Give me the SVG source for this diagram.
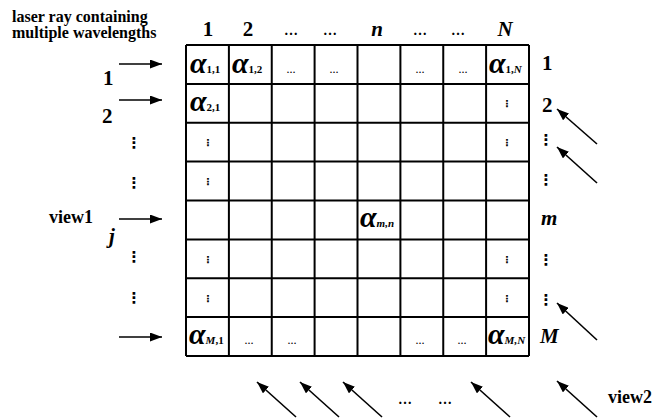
<svg xmlns="http://www.w3.org/2000/svg" width="656" height="419" viewBox="0 0 656 419">
  <defs>
    <marker id="head" markerUnits="userSpaceOnUse" markerWidth="13" markerHeight="9" refX="12" refY="4.5" orient="auto">
      <path d="M0,0 L12,4.5 L0,9 z" fill="#000"/>
    </marker>
    <style>
      text { font-family: 'Liberation Serif', 'DejaVu Serif', serif; font-weight: bold; fill: #000; }
      .lbl { font-size: 16px; }
      .num { font-size: 21px; }
      .it { font-style: italic; }
      .al { font-size: 30px; font-style: italic; }
      .sub { font-size: 11px; font-style: normal; }
      .subi { font-size: 11px; font-style: italic; }
      text.dots { font-family: 'DejaVu Sans', sans-serif; text-anchor: middle; }
      .vd { font-size: 15px; }
      .vds { font-size: 10px; }
      .hd { font-size: 14px; text-anchor: middle; }
      .cd { font-size: 9px; text-anchor: middle; }
      .grid line { stroke: #000; stroke-width: 2; }
      .ray { stroke: #000; stroke-width: 1.6; fill: none; marker-end: url(#head); }
    </style>
  </defs>
  <rect width="656" height="419" fill="#fff"/>

  <!-- title of the incoming ray -->
  <g id="title">
    <text class="lbl" x="12" y="22">laser ray containing</text>
    <text class="lbl" x="12" y="38">multiple wavelengths</text>
  </g>

  <!-- column indices -->
  <g id="col-labels">
    <text class="num" x="208" y="36" text-anchor="middle">1</text>
    <text class="num" x="248" y="36" text-anchor="middle">2</text>
    <text class="hd" x="291" y="35">…</text>
    <text class="hd" x="330" y="35">…</text>
    <text class="num it" x="377" y="36" text-anchor="middle">n</text>
    <text class="hd" x="420" y="35">…</text>
    <text class="hd" x="458" y="35">…</text>
    <text class="num it" x="505" y="36" text-anchor="middle">N</text>
  </g>

  <!-- the M x N grid -->
  <g id="grid" class="grid">
    <line x1="186" y1="45" x2="529" y2="45"/>
    <line x1="186" y1="83.9" x2="529" y2="83.9"/>
    <line x1="186" y1="122.75" x2="529" y2="122.75"/>
    <line x1="186" y1="161.6" x2="529" y2="161.6"/>
    <line x1="186" y1="200.5" x2="529" y2="200.5"/>
    <line x1="186" y1="239.4" x2="529" y2="239.4"/>
    <line x1="186" y1="278.25" x2="529" y2="278.25"/>
    <line x1="186" y1="317.1" x2="529" y2="317.1"/>
    <line x1="186" y1="356" x2="529" y2="356"/>
    <line x1="186" y1="45" x2="186" y2="356"/>
    <line x1="228.9" y1="45" x2="228.9" y2="356"/>
    <line x1="271.75" y1="45" x2="271.75" y2="356"/>
    <line x1="314.6" y1="45" x2="314.6" y2="356"/>
    <line x1="357.5" y1="45" x2="357.5" y2="356"/>
    <line x1="400.4" y1="45" x2="400.4" y2="356"/>
    <line x1="443.25" y1="45" x2="443.25" y2="356"/>
    <line x1="486.1" y1="45" x2="486.1" y2="356"/>
    <line x1="529" y1="45" x2="529" y2="356"/>
  </g>

  <!-- cell contents -->
  <g id="cells">
    <text class="al" x="190" y="73">α<tspan class="sub">1,1</tspan></text>
    <text class="al" x="232" y="73">α<tspan class="sub">1,2</tspan></text>
    <text class="cd" x="291" y="73">…</text>
    <text class="cd" x="334" y="73">…</text>
    <text class="cd" x="420" y="73">…</text>
    <text class="cd" x="463" y="73">…</text>
    <text class="al" x="489" y="73">α<tspan class="sub">1,</tspan><tspan class="subi">N</tspan></text>

    <text class="al" x="190" y="111">α<tspan class="sub">2,1</tspan></text>
    <text class="dots vds" x="507" y="107">⋮</text>

    <text class="dots vds" x="208" y="146">⋮</text>
    <text class="dots vds" x="507" y="146">⋮</text>

    <text class="dots vds" x="208" y="185">⋮</text>

    <text class="al" x="360" y="227">α<tspan class="subi">m,n</tspan></text>

    <text class="dots vds" x="208" y="263">⋮</text>
    <text class="dots vds" x="507" y="263">⋮</text>

    <text class="dots vds" x="208" y="302">⋮</text>
    <text class="dots vds" x="507" y="302">⋮</text>

    <text class="al" x="189" y="344">α<tspan class="subi">M</tspan><tspan class="sub">,1</tspan></text>
    <text class="cd" x="249" y="344">…</text>
    <text class="cd" x="292" y="344">…</text>
    <text class="cd" x="420" y="344">…</text>
    <text class="cd" x="462" y="344">…</text>
    <text class="al" x="488" y="344">α<tspan class="subi">M,N</tspan></text>
  </g>

  <!-- row indices on the right -->
  <g id="row-labels-right">
    <text class="num" x="542" y="70">1</text>
    <text class="num" x="542" y="112">2</text>
    <text class="dots vd" x="546" y="145">⋮</text>
    <text class="dots vd" x="546" y="185">⋮</text>
    <text class="num it" x="541" y="225">m</text>
    <text class="dots vd" x="546" y="265">⋮</text>
    <text class="dots vd" x="546" y="305">⋮</text>
    <text class="num it" x="540" y="343">M</text>
  </g>

  <!-- ray indices on the left -->
  <g id="row-labels-left">
    <text class="num" x="103" y="85">1</text>
    <text class="num" x="102" y="123">2</text>
    <text class="dots vd" x="134" y="148">⋮</text>
    <text class="dots vd" x="134" y="188">⋮</text>
    <text class="num it" x="109" y="243">j</text>
    <text class="dots vd" x="134" y="262">⋮</text>
    <text class="dots vd" x="134" y="303">⋮</text>
  </g>

  <g id="view1">
    <text font-size="18" x="49" y="223">view1</text>
  </g>
  <g id="view2">
    <text font-size="18" x="608" y="403">view2</text>
    <text class="hd" x="405" y="404">…</text>
    <text class="hd" x="445" y="404">…</text>
  </g>

  <!-- rays -->
  <g id="connectors">
    <line class="ray" x1="119" y1="64" x2="162" y2="64"/>
    <line class="ray" x1="119" y1="100" x2="162" y2="100"/>
    <line class="ray" x1="119" y1="219" x2="162" y2="219"/>
    <line class="ray" x1="119" y1="337" x2="162" y2="337"/>

    <line class="ray" x1="597" y1="144" x2="557" y2="109"/>
    <line class="ray" x1="597" y1="183" x2="557" y2="147"/>
    <line class="ray" x1="597" y1="340" x2="557" y2="303"/>
    <line class="ray" x1="597" y1="417" x2="557" y2="381"/>

    <line class="ray" x1="296" y1="417" x2="257" y2="382"/>
    <line class="ray" x1="339" y1="417" x2="300" y2="382"/>
    <line class="ray" x1="382" y1="417" x2="343" y2="382"/>
    <line class="ray" x1="510" y1="417" x2="471" y2="382"/>
  </g>
</svg>
